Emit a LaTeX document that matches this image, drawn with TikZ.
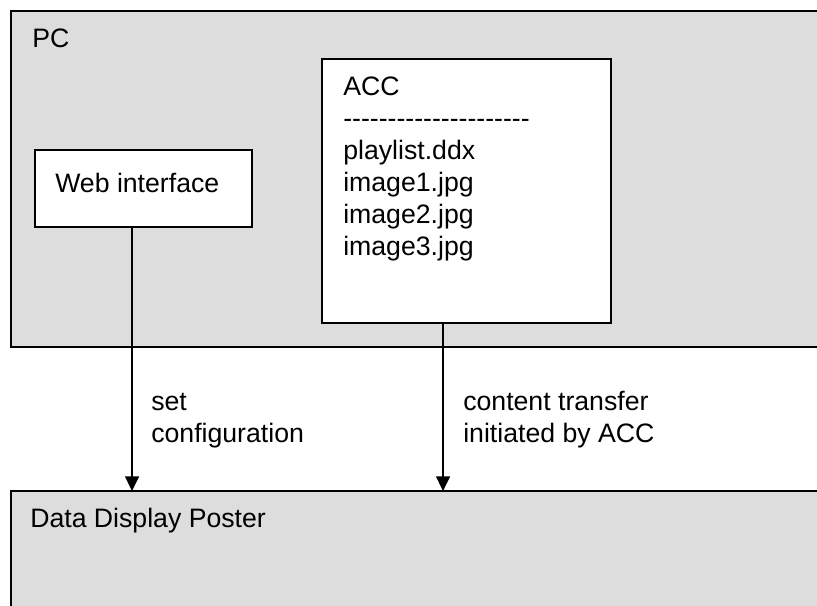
\documentclass[tikz,border=0pt]{standalone}
\usepackage{fontspec}
\setmainfont{Liberation Sans}[Ligatures=TeXOff]
\usetikzlibrary{arrows.meta}
\definecolor{fondo}{RGB}{221,221,221}

\begin{document}
\begin{tikzpicture}[x=0.75pt,y=-0.75pt,font=\fontsize{20}{24}\selectfont,
  caja/.style={draw,line width=1.1pt,inner sep=0pt,outer sep=0pt,anchor=north west},
  zona/.style={caja,fill=fondo,minimum width=615pt},
  txt/.style={anchor=base west,inner sep=0pt,align=left},
  flecha/.style={line width=1.1pt,-{Triangle[length=11pt,width=10.5pt]}}]
  \useasboundingbox (0,0) rectangle (817,606);
  % cajas
  \node[zona,minimum height=252pt] (pc) at (11,11) {};
  \node[zona,minimum height=97.5pt] (poster) at (11,491) {};
  \node[caja,fill=white,minimum width=162.75pt,minimum height=57.75pt] (web) at (35,150) {};
  \node[caja,fill=white,minimum width=216.75pt,minimum height=198pt] (acc) at (322,59) {};
  % textos (base = ultima linea)
  \node[txt] (pctxt) at (32,48) {PC};
  \node[txt] (webtxt) at (55,192) {Web interface};
  \node[txt] (acctxt) at (343,255) {ACC\\---------------------\\playlist.ddx\\image1.jpg\\image2.jpg\\image3.jpg};
  \node[txt] (postertxt) at (30,527) {Data Display Poster};
  % flechas
  \coordinate (w1) at ([xshift=-8.6pt]web.south);
  \coordinate (a1) at ([xshift=-17.6pt]acc.south);
  \draw[flecha] (w1) -- (w1 |- poster.north);
  \draw[flecha] (a1) -- (a1 |- poster.north);
  \node[txt] (settxt) at (151,442) {set\\configuration};
  \node[txt] (cttxt) at (463,442) {content transfer\\initiated by ACC};
\end{tikzpicture}
\end{document}
